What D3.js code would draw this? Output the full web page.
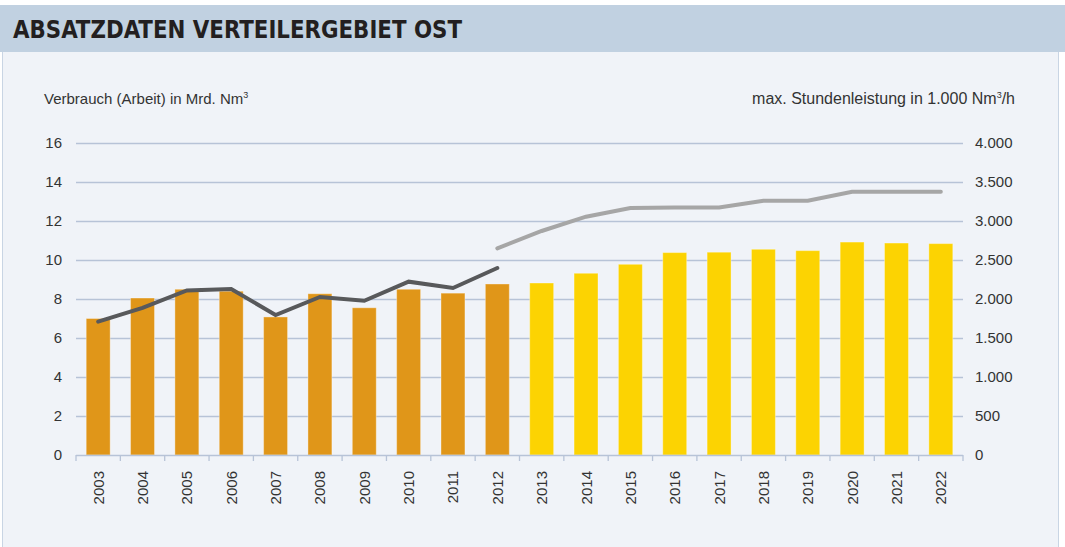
<!DOCTYPE html>
<html lang="de">
<head>
    <meta charset="UTF-8">
    <title>Absatzdaten Verteilergebiet Ost</title>
    <script src="https://cdnjs.cloudflare.com/ajax/libs/d3/7.8.5/d3.min.js"></script>
    <style>
        body {
            margin: 0;
            background-color: #ffffff;
            font-family: "Liberation Sans", Arial, sans-serif;
        }
        svg { display: block; }
    </style>
</head>
<body>
    <div id="chart"></div>

    <script>
        // Data
        const years = [2003, 2004, 2005, 2006, 2007, 2008, 2009, 2010, 2011, 2012,
                       2013, 2014, 2015, 2016, 2017, 2018, 2019, 2020, 2021, 2022];
        const consumption = [7.0, 8.05, 8.5, 8.4, 7.08, 8.27, 7.55, 8.5, 8.3, 8.77,
                             8.82, 9.32, 9.78, 10.38, 10.4, 10.55, 10.48, 10.92, 10.87, 10.84];
        const lastActualYear = 2012;
        const actualYears = [2003, 2004, 2005, 2006, 2007, 2008, 2009, 2010, 2011, 2012];
        const maxLoadActual = [1710, 1885, 2110, 2128, 1795, 2026, 1978, 2222, 2141, 2397];
        const forecastYears = [2012, 2013, 2014, 2015, 2016, 2017, 2018, 2019, 2020, 2021, 2022];
        const maxLoadForecast = [2649, 2872, 3055, 3166, 3174, 3172, 3260, 3260, 3376, 3376, 3376];
        const leftTicks = [0, 2, 4, 6, 8, 10, 12, 14, 16];
        const rightTicks = [0, 500, 1000, 1500, 2000, 2500, 3000, 3500, 4000];
        const rightTickLabels = ["0", "500", "1.000", "1.500", "2.000", "2.500", "3.000", "3.500", "4.000"];

        const W = 1065, H = 547;
        const plot = {left: 76, right: 963, top: 143, bottom: 455};

        const svg = d3.select("#chart")
            .append("svg")
                .attr("width", W)
                .attr("height", H);

        // Panel and header banner
        svg.append("rect")
            .attr("x", 2.5).attr("y", 40)
            .attr("width", 1056).attr("height", H)
            .attr("fill", "#f0f3f8")
            .attr("stroke", "#c9d5e4")
            .attr("stroke-width", 1);

        svg.append("rect")
            .attr("x", 0).attr("y", 5)
            .attr("width", W).attr("height", 47)
            .attr("fill", "#c1d1e1");

        svg.append("text")
            .attr("x", 13)
            .attr("y", 38)
            .attr("textLength", 449)
            .attr("lengthAdjust", "spacingAndGlyphs")
            .style("font-family", "'Liberation Sans Narrow', 'DejaVu Sans Condensed', Arial, sans-serif")
            .style("font-weight", "bold")
            .style("font-size", "25px")
            .style("fill", "#231f20")
            .text("ABSATZDATEN VERTEILERGEBIET OST");

        // Scales
        const x = d3.scaleBand()
            .domain(years)
            .range([plot.left, plot.right])
            .paddingInner(0.46)
            .paddingOuter(0.23);

        const yLeft = d3.scaleLinear()
            .domain([0, 16])
            .range([plot.bottom, plot.top]);

        const yRight = d3.scaleLinear()
            .domain([0, 4000])
            .range([plot.bottom, plot.top]);

        const cx = d => x(d) + x.bandwidth() / 2;

        // Gridlines
        svg.append("g")
            .selectAll("line")
            .data(leftTicks.slice(1))
            .join("line")
                .attr("x1", plot.left)
                .attr("x2", plot.right)
                .attr("y1", d => Math.round(yLeft(d)) + 0.5)
                .attr("y2", d => Math.round(yLeft(d)) + 0.5)
                .attr("stroke", "#b7c3d7")
                .attr("stroke-width", 1.3);

        // Left axis
        const leftAxis = svg.append("g")
            .attr("transform", `translate(${plot.left},0)`)
            .call(d3.axisLeft(yLeft).tickValues(leftTicks).tickSize(0).tickPadding(14));
        leftAxis.select(".domain").remove();

        // Right axis
        const rightAxis = svg.append("g")
            .attr("transform", `translate(${plot.right},0)`)
            .call(d3.axisRight(yRight)
                .tickValues(rightTicks)
                .tickFormat((d, i) => rightTickLabels[i])
                .tickSize(0)
                .tickPadding(12));
        rightAxis.select(".domain").remove();

        svg.selectAll(".tick text")
            .style("font-family", "'Liberation Sans', Arial, sans-serif")
            .style("font-size", "15px")
            .style("fill", "#333333");

        // Bars
        svg.append("g")
            .selectAll("rect")
            .data(years.map((yr, i) => ({year: yr, value: consumption[i]})))
            .join("rect")
                .attr("x", d => x(d.year))
                .attr("y", d => yLeft(d.value))
                .attr("width", x.bandwidth())
                .attr("height", d => yLeft(0) - yLeft(d.value))
                .attr("fill", d => d.year <= lastActualYear ? "#e09619" : "#fcd302")
                .attr("stroke", "rgba(255,255,255,0.35)")
                .attr("stroke-width", 1);

        // X axis
        const xAxis = svg.append("g")
            .attr("transform", `translate(0,${plot.bottom})`);
        xAxis.append("line")
            .attr("x1", plot.left).attr("x2", plot.right)
            .attr("y1", 0.5).attr("y2", 0.5)
            .attr("stroke", "#b7c3d7")
            .attr("stroke-width", 1.5);
        const boundaries = d3.range(years.length + 1).map(i => plot.left + i * (plot.right - plot.left) / years.length);
        xAxis.selectAll(".xtick")
            .data(boundaries)
            .join("line")
                .attr("class", "xtick")
                .attr("x1", d => d).attr("x2", d => d)
                .attr("y1", 0).attr("y2", 6)
                .attr("stroke", "#b7c3d7")
                .attr("stroke-width", 1.3);
        xAxis.selectAll(".xlabel")
            .data(years)
            .join("text")
                .attr("class", "xlabel")
                .attr("transform", d => `translate(${cx(d) + 5.5},16) rotate(-90)`)
                .attr("text-anchor", "end")
                .style("font-family", "'Liberation Sans', Arial, sans-serif")
                .style("font-size", "15px")
                .style("fill", "#333333")
                .text(d => d);

        // Lines
        const line = d3.line()
            .x(d => cx(d.year))
            .y(d => yRight(d.value));

        svg.append("path")
            .datum(forecastYears.map((yr, i) => ({year: yr, value: maxLoadForecast[i]})))
            .attr("fill", "none")
            .attr("stroke", "#a6a6a6")
            .attr("stroke-width", 4)
            .attr("stroke-linecap", "round")
            .attr("d", line);

        svg.append("path")
            .datum(actualYears.map((yr, i) => ({year: yr, value: maxLoadActual[i]})))
            .attr("fill", "none")
            .attr("stroke", "#58595b")
            .attr("stroke-width", 4)
            .attr("stroke-linecap", "round")
            .attr("d", line);

        // Axis titles
        const leftTitle = svg.append("text")
            .attr("x", 44)
            .attr("y", 104)
            .style("font-family", "'Liberation Sans', Arial, sans-serif")
            .style("font-size", "15px")
            .style("fill", "#333333");
        leftTitle.append("tspan").text("Verbrauch (Arbeit) in Mrd. Nm");
        leftTitle.append("tspan").attr("dy", -6).style("font-size", "9px").text("3");

        const rightTitle = svg.append("text")
            .attr("x", 1015)
            .attr("y", 104)
            .attr("text-anchor", "end")
            .style("font-family", "'Liberation Sans', Arial, sans-serif")
            .style("font-size", "16px")
            .style("fill", "#333333");
        rightTitle.append("tspan").text("max. Stundenleistung in 1.000 Nm");
        rightTitle.append("tspan").attr("dy", -6).style("font-size", "9px").text("3");
        rightTitle.append("tspan").attr("dy", 6).text("/h");
    </script>
</body>
</html>
